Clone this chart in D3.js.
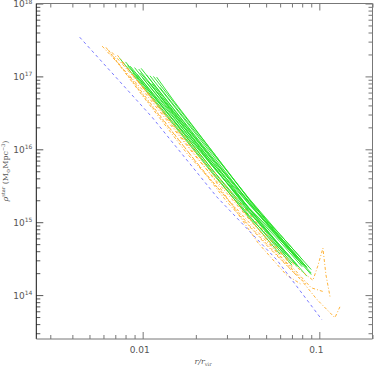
<!DOCTYPE html>
<html>
<head>
<meta charset="utf-8">
<script src="https://cdn.jsdelivr.net/npm/d3@7"></script>
<style>
  body { margin: 0; background: #fff; }
  svg { display: block; }
</style>
</head>
<body>
<svg id="viz" width="374" height="368"></svg>
<script>
// dashed reference profile
const blueLine = [[0.0044, 3.45e17], [0.0113, 2.76e16], [0.0263, 2.22e15], [0.0575, 3.04e14], [0.1034, 4.6e13]];

// green profiles (solid)
const greenLines = [
  [[0.0074, 1.78e17], [0.015, 2.16e16], [0.025, 4.57e15], [0.04, 1.2e15], [0.06, 4.27e14], [0.07, 2.75e14]],
  [[0.0080, 1.58e17], [0.015, 2.43e16], [0.025, 5.13e15], [0.04, 1.36e15], [0.06, 4.79e14], [0.075, 2.57e14]],
  [[0.0085, 1.38e17], [0.015, 2.69e16], [0.025, 6.03e15], [0.04, 1.45e15], [0.065, 3.63e14]],
  [[0.0090, 1.32e17], [0.015, 2.79e16], [0.025, 5.75e15], [0.04, 1.53e15], [0.06, 5.37e14], [0.08, 2.45e14]],
  [[0.0095, 1.26e17], [0.015, 3.13e16], [0.025, 6.46e15], [0.04, 1.53e15], [0.06, 4.79e14], [0.085, 1.82e14]],
  [[0.0098, 1.29e17], [0.015, 3.51e16], [0.025, 7.24e15], [0.04, 1.78e15], [0.06, 5.75e14], [0.09, 1.91e14]],
  [[0.0105, 1.05e17], [0.015, 3.59e16], [0.025, 7.59e15], [0.04, 1.86e15], [0.06, 6.03e14], [0.075, 3.24e14]],
  [[0.0110, 1.02e17], [0.015, 3.94e16], [0.025, 8.13e15], [0.04, 1.88e15], [0.06, 5.75e14], [0.08, 2.63e14]],
  [[0.0115, 1.0e17], [0.015, 4.42e16], [0.025, 9.12e15], [0.04, 2.09e15], [0.06, 6.31e14], [0.085, 2.4e14]],
  [[0.0120, 9.77e16], [0.015, 4.62e16], [0.025, 9.12e15], [0.04, 2.04e15], [0.06, 6.03e14], [0.09, 2.0e14]],
  [[0.0125, 7.08e16], [0.015, 4.07e16], [0.025, 8.71e15], [0.04, 2.11e15], [0.06, 6.76e14], [0.08, 3.09e14]],
  [[0.0088, 1.12e17], [0.015, 2.26e16], [0.025, 4.79e15], [0.04, 1.15e15], [0.06, 3.63e14]],
  [[0.0093, 1.07e17], [0.015, 2.48e16], [0.025, 5.13e15], [0.04, 1.24e15], [0.06, 3.98e14], [0.07, 2.57e14]],
  [[0.0100, 9.55e16], [0.015, 2.95e16], [0.025, 6.46e15], [0.04, 1.76e15], [0.06, 6.31e14], [0.085, 2.4e14]],
  [[0.0108, 8.51e16], [0.015, 3.02e16], [0.025, 6.03e15], [0.04, 1.4e15], [0.065, 3.39e14]],
  [[0.0082, 1.41e17], [0.015, 2.51e16], [0.025, 5.75e15], [0.04, 1.58e15], [0.06, 5.75e14], [0.08, 2.63e14]],
  [[0.0113, 7.94e16], [0.015, 3.31e16], [0.025, 6.92e15], [0.04, 1.55e15], [0.06, 4.57e14], [0.075, 2.45e14]],
  [[0.0097, 1.12e17], [0.015, 3.24e16], [0.025, 7.24e15], [0.04, 1.93e15], [0.06, 6.76e14], [0.09, 2.24e14]]
];

// orange profiles (dash-dot)
const orangeLines = [
  [[0.0059, 2.6e17], [0.01, 6.5e16], [0.02, 7.9e15], [0.04, 1.1e15], [0.06, 3.8e14], [0.07, 2.8e14], [0.078, 2.2e14], [0.092, 1.6e14], [0.098, 2.5e14], [0.1048, 4.4e14], [0.109, 1.9e14], [0.115, 9.5e13]],
  [[0.0064, 2.3e17], [0.01, 5.6e16], [0.02, 6.8e15], [0.04, 9.1e14], [0.06, 3.2e14], [0.08, 1.55e14], [0.097, 8.7e13], [0.1225, 4.9e13], [0.1308, 6.9e13]],
  [[0.0067, 2.14e17], [0.01, 7.1e16], [0.02, 8.9e15], [0.04, 1.15e15], [0.06, 3.4e14], [0.085, 1.38e14]],
  [[0.0072, 1.95e17], [0.012, 4.0e16], [0.025, 4.1e15], [0.045, 5.2e14], [0.065, 1.9e14], [0.08, 1.38e14]],
  [[0.0076, 1.58e17], [0.015, 2.3e16], [0.03, 3.0e15], [0.05, 6.9e14], [0.07, 2.45e14], [0.09, 1.26e14], [0.105, 1.12e14]],
  [[0.0085, 9.8e16], [0.015, 1.66e16], [0.03, 1.9e15], [0.05, 4.9e14], [0.075, 1.82e14]],
  [[0.0062, 2.5e17], [0.01, 5.4e16], [0.018, 8.5e15], [0.03, 2.14e15], [0.05, 5.5e14], [0.07, 2.34e14]]
];

const xMajor = [0.01, 0.1];
const xMinor = [0.003, 0.004, 0.005, 0.006, 0.007, 0.008, 0.009, 0.02, 0.03, 0.04, 0.05, 0.06, 0.07, 0.08, 0.09, 0.2];
const yExponents = [14, 15, 16, 17, 18];
const xLabels = ["0.01", "0.1"];

const svg = d3.select("#viz");
const mLeft = 36.3, mRight = 372.5, mTop = 3.5, mBottom = 339;

const x = d3.scaleLog().domain([0.0025, 0.2]).range([mLeft, mRight]);
const y = d3.scaleLog().domain([2.5e13, 1e18]).range([mBottom, mTop]);

const yMajor = yExponents.map(e => Math.pow(10, e));
const yMinor = [];
for (let e = 13; e <= 17; e++) {
  for (let m = 2; m <= 9; m++) {
    const v = m * Math.pow(10, e);
    if (v >= 2.5e13 && v <= 1e18) yMinor.push(v);
  }
}

svg.append("defs").append("clipPath").attr("id", "clip")
  .append("rect")
  .attr("x", mLeft).attr("y", mTop)
  .attr("width", mRight - mLeft).attr("height", mBottom - mTop);

const line = d3.line().x(d => x(d[0])).y(d => y(d[1]));
const plot = svg.append("g").attr("clip-path", "url(#clip)");

plot.selectAll(".green")
  .data(greenLines)
  .enter()
  .append("path")
  .attr("d", line)
  .attr("fill", "none")
  .attr("stroke", "#22e022")
  .attr("stroke-width", 0.9);

plot.selectAll(".orange")
  .data(orangeLines)
  .enter()
  .append("path")
  .attr("d", line)
  .attr("fill", "none")
  .attr("stroke", "#ffaa22")
  .attr("stroke-width", 0.9)
  .attr("stroke-dasharray", "3,2,1,2");

plot.append("path")
  .datum(blueLine)
  .attr("d", line)
  .attr("fill", "none")
  .attr("stroke", "#6a6aff")
  .attr("stroke-width", 0.9)
  .attr("stroke-dasharray", "3,3");

// axes with inward ticks on all four sides
function tickAxis(axisFn, scale, values, size, transform, color) {
  const g = svg.append("g")
    .attr("transform", transform)
    .call(axisFn(scale).tickValues(values).tickSize(-size).tickFormat(""));
  g.select(".domain").remove();
  g.selectAll("line").attr("stroke", color);
}

tickAxis(d3.axisBottom, x, xMajor, 7, `translate(0,${mBottom})`, "#777");
tickAxis(d3.axisBottom, x, xMinor, 4, `translate(0,${mBottom})`, "#777");
tickAxis(d3.axisTop, x, xMajor, 7, `translate(0,${mTop})`, "#777");
tickAxis(d3.axisTop, x, xMinor, 4, `translate(0,${mTop})`, "#777");
tickAxis(d3.axisLeft, y, yMajor, 7, `translate(${mLeft},0)`, "#555");
tickAxis(d3.axisLeft, y, yMinor, 4, `translate(${mLeft},0)`, "#555");
tickAxis(d3.axisRight, y, yMajor, 7, `translate(${mRight},0)`, "#777");
tickAxis(d3.axisRight, y, yMinor, 4, `translate(${mRight},0)`, "#777");

// frame
svg.append("line").attr("x1", mLeft).attr("x2", mLeft).attr("y1", mTop).attr("y2", mBottom)
  .attr("stroke", "#111").attr("stroke-width", 1);
svg.append("line").attr("x1", mLeft).attr("x2", mRight).attr("y1", mBottom).attr("y2", mBottom)
  .attr("stroke", "#777").attr("stroke-width", 1);
svg.append("line").attr("x1", mLeft).attr("x2", mRight).attr("y1", mTop).attr("y2", mTop)
  .attr("stroke", "#777").attr("stroke-width", 1);
svg.append("line").attr("x1", mRight).attr("x2", mRight).attr("y1", mTop).attr("y2", mBottom)
  .attr("stroke", "#777").attr("stroke-width", 1);

// y tick labels 10^n
const ylab = svg.selectAll(".ylab")
  .data(yExponents)
  .enter()
  .append("text")
  .attr("x", mLeft - 4)
  .attr("y", e => y(Math.pow(10, e)) + 3.5)
  .attr("text-anchor", "end")
  .attr("font-family", "DejaVu Sans, sans-serif")
  .attr("font-size", "9px")
  .attr("fill", "#555");
ylab.append("tspan").text("10");
ylab.append("tspan").attr("dy", -3.5).attr("font-size", "6px").text(e => e);

// x tick labels
svg.selectAll(".xlab")
  .data(xMajor)
  .enter()
  .append("text")
  .attr("x", d => x(d) - 3)
  .attr("y", 353)
  .attr("text-anchor", "middle")
  .attr("font-family", "DejaVu Sans, sans-serif")
  .attr("font-size", "9px")
  .attr("fill", "#555")
  .text((d, i) => xLabels[i]);

// axis titles
const xt = svg.append("text")
  .attr("x", 203).attr("y", 364)
  .attr("text-anchor", "middle")
  .attr("font-family", "DejaVu Serif, serif")
  .attr("font-size", "8px")
  .attr("fill", "#555");
xt.append("tspan").attr("font-style", "italic").text("r/r");
xt.append("tspan").attr("dy", 2).attr("font-size", "5px").text("vir");

const yt = svg.append("text")
  .attr("transform", "translate(8,171) rotate(-90)")
  .attr("text-anchor", "middle")
  .attr("font-family", "DejaVu Serif, serif")
  .attr("font-size", "8px")
  .attr("fill", "#555");
yt.append("tspan").attr("font-style", "italic").text("ρ");
yt.append("tspan").attr("dy", -3).attr("font-size", "5px").text("star");
yt.append("tspan").attr("dy", 3).text(" (M");
yt.append("tspan").attr("dy", 1.5).attr("font-size", "5px").text("⊙");
yt.append("tspan").attr("dy", -1.5).text("Mpc");
yt.append("tspan").attr("dy", -3).attr("font-size", "5px").text("−3");
yt.append("tspan").attr("dy", 3).text(")");
</script>
</body>
</html>
